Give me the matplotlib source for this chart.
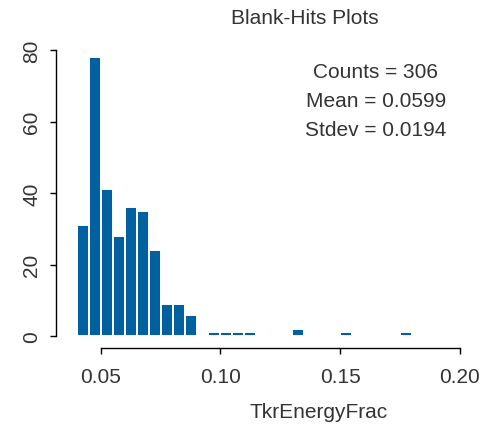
import matplotlib
matplotlib.use("Agg")
import matplotlib.pyplot as plt

plt.rcParams['font.family'] = ['Liberation Sans', 'DejaVu Sans']

# histogram of TkrEnergyFrac, bin width 0.005
bin_left = [0.040, 0.045, 0.050, 0.055, 0.060, 0.065, 0.070, 0.075, 0.080, 0.085,
            0.095, 0.100, 0.105, 0.110, 0.130, 0.150, 0.175]
counts = [31, 78, 41, 28, 36, 35, 24, 9, 9, 6,
          1, 1, 1, 1, 2, 1, 1]
bin_width = 0.005

x_ticks = [0.05, 0.10, 0.15, 0.20]
x_ticklabels = ["0.05", "0.10", "0.15", "0.20"]
y_ticks = [0, 20, 40, 60, 80]

stats = ["Counts = 306", "Mean = 0.0599", "Stdev = 0.0194"]

W, H = 485, 431
fig = plt.figure(figsize=(W / 100, H / 100), dpi=100)

# axes in pixel terms: left 56, right 470, top 45, bottom 349
L, R, T, B = 56, 470, 45, 349
ax = fig.add_axes([L / W, 1 - B / H, (R - L) / W, (B - T) / H])

xs = 359.3 / 0.15  # px per unit
ys = 286 / 80.0
ax.set_xlim(0.05 - (100.7 - L) / xs, 0.20 + (R - 460) / xs)
ax.set_ylim(-(B - 337) / ys, 80 + (51 - T) / ys)

ax.bar(bin_left, counts, width=bin_width, align='edge', color='#0060a0',
       edgecolor='white', linewidth=1.4)

for s in ['top', 'right']:
    ax.spines[s].set_visible(False)
ax.spines['bottom'].set_bounds(0.05, 0.20)
ax.spines['left'].set_bounds(0, 80)
for s in ['bottom', 'left']:
    ax.spines[s].set_linewidth(1.0)
    ax.spines[s].set_color('black')

ax.set_xticks(x_ticks)
ax.set_xticklabels(x_ticklabels)
ax.set_yticks(y_ticks)
ax.set_yticklabels([str(v) for v in y_ticks], rotation=90, va='center')
ax.tick_params(axis='both', direction='out', length=4.5, width=1.0,
               labelsize=15, colors='black')
ax.tick_params(axis='x', pad=9)
ax.tick_params(axis='y', pad=6)
for lab in ax.get_xticklabels() + ax.get_yticklabels():
    lab.set_color('#333333')

fig.text(305 / W, 1 - 18 / H, "Blank-Hits Plots", ha='center', va='center',
         fontsize=15, color='#333333')
fig.text(319 / W, 1 - 413 / H, "TkrEnergyFrac", ha='center', va='center',
         fontsize=15, color='#333333')
for i, line in enumerate(stats):
    fig.text(376 / W, 1 - (73 + 29 * i) / H, line, ha='center', va='center',
             fontsize=15, color='#333333')

fig.savefig("out.png", dpi=100)
